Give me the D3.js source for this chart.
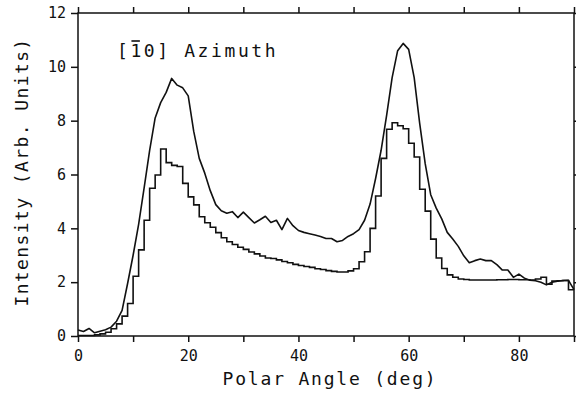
<!DOCTYPE html>
<html>
<head>
<meta charset="utf-8">
<script src="https://cdn.jsdelivr.net/npm/d3@7"></script>
<style>
  body { margin: 0; background: #fff; }
  svg text { font-family: "DejaVu Sans Mono", monospace; fill: #111; }
</style>
</head>
<body>
<svg id="chart" width="576" height="393"></svg>
<script>
// polar angle in degrees, one sample per degree
var angles = d3.range(0, 91);

// smooth curve (upper trace), value at each degree 0..90
var upperValues = [
    0.22, 0.17, 0.28, 0.12, 0.18, 0.23, 0.33, 0.55, 0.95, 1.95,
    3.00, 4.15, 5.50, 6.90, 8.10, 8.67, 9.05, 9.57, 9.32, 9.22,
    8.92, 7.60, 6.60, 6.05, 5.40, 4.88, 4.65, 4.56, 4.62, 4.40,
    4.60, 4.40, 4.20, 4.32, 4.45, 4.22, 4.30, 3.95, 4.37, 4.10,
    3.92, 3.85, 3.80, 3.75, 3.70, 3.62, 3.62, 3.50, 3.55, 3.70,
    3.80, 3.95, 4.30, 4.90, 5.85, 6.90, 8.20, 9.60, 10.60, 10.87,
    10.65, 9.60, 7.90, 6.40, 5.25, 4.75, 4.35, 3.85, 3.60, 3.33,
    2.98, 2.72, 2.80, 2.86, 2.80, 2.80, 2.65, 2.45, 2.45, 2.18,
    2.30, 2.15, 2.07, 2.05, 2.00, 1.90, 2.00, 2.04, 2.06, 2.07,
    1.72
];

// histogram (lower trace), one bin per degree [d, d+1), d = 0..89
var histValues = [
    0.02, 0.02, 0.02, 0.04, 0.08, 0.14, 0.27, 0.45, 0.74, 1.21,
    2.22, 3.20, 4.30, 5.49, 5.98, 6.95, 6.44, 6.34, 6.30, 5.67,
    5.17, 4.87, 4.43, 4.21, 4.04, 3.84, 3.65, 3.50, 3.40, 3.30,
    3.22, 3.12, 3.05, 2.97, 2.90, 2.88, 2.83, 2.77, 2.72, 2.66,
    2.62, 2.58, 2.55, 2.50, 2.47, 2.43, 2.40, 2.38, 2.38, 2.42,
    2.50, 2.76, 3.13, 4.00, 5.20, 6.60, 7.68, 7.92, 7.81, 7.70,
    7.16, 6.65, 5.45, 4.64, 3.60, 2.90, 2.51, 2.27, 2.18, 2.12,
    2.10, 2.08, 2.08, 2.08, 2.08, 2.08, 2.09, 2.09, 2.10, 2.10,
    2.09, 2.09, 2.08, 2.12, 2.18, 1.92, 2.04, 2.05, 2.06, 1.72
];

var xTicks = [0, 20, 40, 60, 80];
var xTicksMajor = d3.range(0, 91, 10);
var yTicks = [0, 2, 4, 6, 8, 10, 12];

var svg = d3.select('#chart');
var plotL = 78, plotR = 574, plotT = 13, plotB = 336;

var xScale = d3.scaleLinear().domain([0, 90]).range([plotL, plotR]);
var yScale = d3.scaleLinear().domain([0, 12]).range([plotB, plotT]);

// frame
svg.append('rect')
    .attr('x', plotL).attr('y', plotT)
    .attr('width', plotR - plotL).attr('height', plotB - plotT)
    .attr('fill', 'none').attr('stroke', '#111').attr('stroke-width', 1.5);

function styleAxis(g) {
    g.select('.domain').remove();
    g.selectAll('.tick line').attr('stroke', '#111').attr('stroke-width', 1.5);
    g.selectAll('.tick text').style('font-size', '15px').attr('fill', '#111');
}

svg.append('g')
    .attr('transform', 'translate(0,' + plotB + ')')
    .call(d3.axisBottom(xScale).tickValues(xTicksMajor).tickSize(6).tickPadding(8)
        .tickFormat(function(d) { return xTicks.indexOf(d) >= 0 ? d : ''; }))
    .call(styleAxis);

svg.append('g')
    .attr('transform', 'translate(0,' + plotT + ')')
    .call(d3.axisTop(xScale).tickValues(xTicksMajor).tickSize(6).tickFormat(''))
    .call(styleAxis);

svg.append('g')
    .attr('transform', 'translate(' + plotL + ',0)')
    .call(d3.axisLeft(yScale).tickValues(yTicks).tickSize(7).tickPadding(5))
    .call(styleAxis);

svg.append('g')
    .attr('transform', 'translate(' + plotR + ',0)')
    .call(d3.axisRight(yScale).tickValues(yTicks).tickSize(6).tickFormat(''))
    .call(styleAxis);

// smooth trace
var upperLine = d3.line()
    .x(function(d, i) { return xScale(angles[i]); })
    .y(function(d) { return yScale(d); });

svg.append('path')
    .datum(upperValues)
    .attr('d', upperLine)
    .attr('fill', 'none').attr('stroke', '#111')
    .attr('stroke-width', 1.6).attr('stroke-linejoin', 'round');

// histogram trace
var histPoints = histValues.map(function(v, i) { return [angles[i], v]; });
histPoints.push([90, histValues[histValues.length - 1]]);

var histLine = d3.line()
    .curve(d3.curveStepAfter)
    .x(function(d) { return xScale(d[0]); })
    .y(function(d) { return yScale(d[1]); });

svg.append('path')
    .datum(histPoints)
    .attr('d', histLine)
    .attr('fill', 'none').attr('stroke', '#111')
    .attr('stroke-width', 1.6);

// labels
var title = svg.append('text')
    .attr('x', 117).attr('y', 57)
    .style('font-size', '18px')
    .attr('letter-spacing', '2.6')
    .text('[10] Azimuth');

// bar over the "1"
var oneBox = title.node().getExtentOfChar(1);
svg.append('line')
    .attr('x1', oneBox.x + 1).attr('x2', oneBox.x + oneBox.width - 4)
    .attr('y1', 41).attr('y2', 41)
    .attr('stroke', '#111').attr('stroke-width', 1.6);

svg.append('text')
    .attr('x', 330).attr('y', 385)
    .attr('text-anchor', 'middle')
    .style('font-size', '18px').attr('letter-spacing', '1.8')
    .text('Polar Angle (deg)');

svg.append('text')
    .attr('transform', 'translate(28,172) rotate(-90)')
    .attr('text-anchor', 'middle')
    .style('font-size', '18px').attr('letter-spacing', '1.4')
    .text('Intensity (Arb. Units)');
</script>
</body>
</html>
